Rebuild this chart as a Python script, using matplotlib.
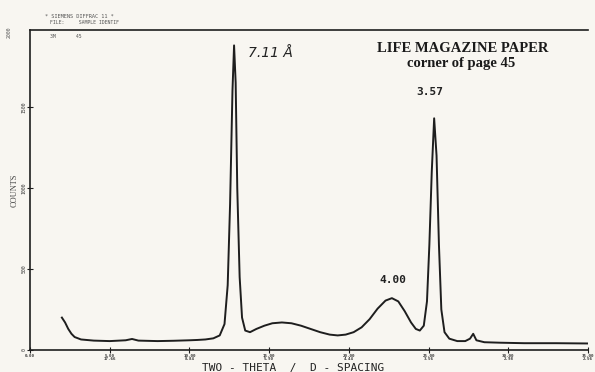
import matplotlib
matplotlib.use("Agg")
import matplotlib.pyplot as plt

# ---- data (2-theta in degrees, counts) ----
two_theta = [2.0, 2.2, 2.4, 2.6, 2.8, 3.2, 4.0, 5.0, 6.0, 6.4, 6.8, 8.0, 9.0, 10.0,
             10.5, 11.0, 11.5, 11.9, 12.2, 12.4, 12.55, 12.7, 12.8, 12.9, 13.0,
             13.15, 13.3, 13.5, 13.8, 14.2, 14.7, 15.2, 15.8, 16.4, 17.0, 17.6,
             18.2, 18.8, 19.3, 19.8, 20.3, 20.8, 21.3, 21.8, 22.3, 22.7, 23.1,
             23.5, 23.9, 24.2, 24.45, 24.7, 24.9, 25.05, 25.2, 25.35, 25.5, 25.65,
             25.8, 26.0, 26.3, 26.8, 27.3, 27.6, 27.8, 28.0, 28.5, 29.5, 31.0,
             33.0, 35.3]
counts = [200, 170, 130, 100, 80, 65, 58, 55, 60, 68, 58, 55, 57, 60,
          62, 65, 72, 90, 160, 400, 900, 1600, 1880, 1650, 1000,
          450, 200, 120, 110, 130, 150, 165, 170, 165, 150, 130,
          110, 95, 90, 95, 110, 140, 190, 255, 305, 320, 300,
          240, 170, 130, 120, 150, 300, 650, 1100, 1430, 1200, 650,
          250, 110, 70, 55, 55, 70, 100, 60, 48, 45, 42,
          42, 40]

x_ticks = [0, 5, 10, 15, 20, 25, 30, 35]
x_tick_labels = ["0.00", "5.00\n17.66", "10.00\n8.84", "15.00\n5.90", "20.00\n4.44",
                 "25.00\n3.56", "30.00\n2.98", "35.00\n2.56"]
y_ticks = [0, 500, 1000, 1500]
y_tick_labels = ["0", "500", "1000", "1500"]

peak_labels = [("7.11 Å", 13.7, 1830), ("3.57", 24.2, 1590), ("4.00", 21.9, 430)]

bg = "#f8f6f1"
ink = "#1e1e1e"

fig = plt.figure(figsize=(5.95, 3.72), dpi=100, facecolor=bg)
ax = fig.add_axes([30/595, 22/372, 558/595, 320/372], facecolor=bg)

ax.plot(two_theta, counts, color=ink, lw=1.4)

ax.set_xlim(0, 35)
ax.set_ylim(0, 1975)
ax.spines["right"].set_visible(False)
for s in ["left", "bottom", "top"]:
    ax.spines[s].set_color(ink)
    ax.spines[s].set_linewidth(1.2)

ax.set_xticks(x_ticks)
ax.set_xticklabels(x_tick_labels, fontsize=3.0, family="DejaVu Sans Mono",
                   fontweight="bold", linespacing=0.8)
ax.set_yticks(y_ticks)
ax.set_yticklabels(y_tick_labels, fontsize=3.5, family="DejaVu Sans Mono", rotation=90,
                   va="center")
ax.tick_params(axis="both", direction="inout", length=4, width=0.8, color=ink, pad=0.6,
               labelcolor="#333333")
ax.tick_params(axis="x", top=False)

fig.text(293/595, 1 - 367.5/372, "TWO - THETA  /  D - SPACING", family="DejaVu Sans Mono",
         fontsize=8, color="#222222", ha="center", va="center")
ax.set_ylabel("COUNTS", family="Liberation Serif", fontsize=6, color="#444444", labelpad=2)

# annotations
ax.text(*peak_labels[0][1:], peak_labels[0][0], fontsize=10, style="italic",
        family="DejaVu Sans", color="#222222", ha="left", va="center")
ax.text(peak_labels[1][1], peak_labels[1][2], peak_labels[1][0], fontsize=8,
        family="DejaVu Sans Mono", fontweight="bold", color="#222222", ha="left", va="center")
ax.text(peak_labels[2][1], peak_labels[2][2], peak_labels[2][0], fontsize=8,
        family="DejaVu Sans Mono", fontweight="bold", color="#222222", ha="left", va="center")

fig.text(463/595, 1 - 49/372, "LIFE MAGAZINE PAPER", family="Liberation Serif",
         fontweight="bold", fontsize=10.5, ha="center", va="center", color="#1a1a1a")
fig.text(461/595, 1 - 63/372, "corner of page 45", family="Liberation Serif",
         fontweight="bold", fontsize=10.5, ha="center", va="center", color="#1a1a1a")

# header texts of the instrument printout
fig.text(45/595, 1 - 16/372, "* SIEMENS DIFFRAC 11 *", family="DejaVu Sans Mono",
         fontsize=3.8, ha="left", va="center", color="#555555")
fig.text(50/595, 1 - 22/372, "FILE:     SAMPLE IDENTIF", family="DejaVu Sans Mono",
         fontsize=3.5, ha="left", va="center", color="#555555")
fig.text(50/595, 1 - 37/372, "3M       45", family="DejaVu Sans Mono",
         fontsize=3.5, ha="left", va="center", color="#555555")
fig.text(9/595, 1 - 32/372, "2000", family="DejaVu Sans Mono", fontsize=3.5,
         rotation=90, ha="center", va="center", color="#555555")

fig.savefig("out.png", dpi=100, facecolor=bg)
